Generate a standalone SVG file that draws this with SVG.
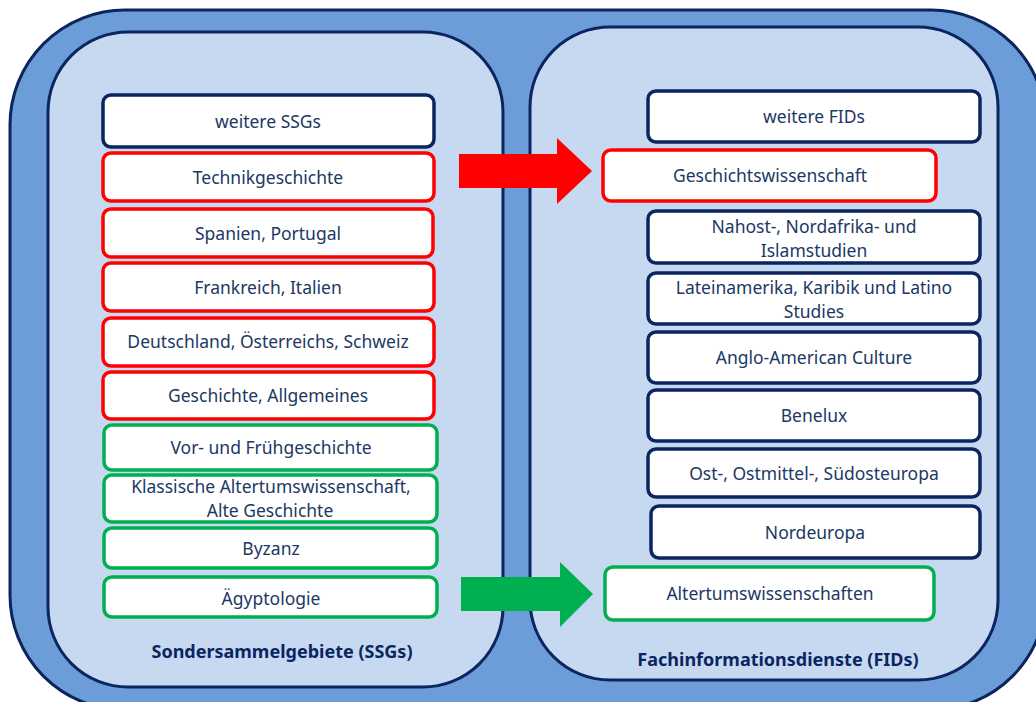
<svg xmlns="http://www.w3.org/2000/svg" width="1036" height="702" viewBox="0 0 1036 702">
<defs>
<style>
.outer{fill:#6D9DD9;stroke:#0B2560;stroke-width:3}
.panel{fill:#C6D9F1;stroke:#0B2560;stroke-width:3}
.n rect{fill:#FFFFFF;stroke-width:3.5}
.navy rect{stroke:#0B2560}
.red rect{stroke:#FF0000}
.green rect{stroke:#00B050}
text{font-family:"Noto Sans","Open Sans",sans-serif;font-size:17.5px;fill:#203864;text-anchor:middle}
.title{font-weight:bold;font-size:18px;fill:#0B2560}
</style>
</defs>
<rect class="outer" x="10" y="10" width="1036" height="700" rx="115"/>
<g id="panel-ssg">
<rect class="panel" x="48" y="32" width="455" height="655" rx="80"/>
<text class="title" x="282" y="658">Sondersammelgebiete (SSGs)</text>
</g>
<g id="panel-fid">
<rect class="panel" x="530" y="27" width="468" height="653" rx="80"/>
<text class="title" x="778" y="666">Fachinformationsdienste (FIDs)</text>
</g>
<g id="ssg-weitere" class="n navy"><rect x="103" y="95" width="331" height="52" rx="8"/><text x="268" y="128">weitere SSGs</text></g>
<g id="ssg-technik" class="n red"><rect x="103" y="153" width="331" height="48" rx="8"/><text x="268" y="184">Technikgeschichte</text></g>
<g id="ssg-spanien" class="n red"><rect x="103" y="209" width="330" height="48" rx="8"/><text x="268" y="240">Spanien, Portugal</text></g>
<g id="ssg-frankreich" class="n red"><rect x="103" y="263" width="331" height="48" rx="8"/><text x="268" y="294">Frankreich,  Italien</text></g>
<g id="ssg-deutschland" class="n red"><rect x="103" y="318" width="331" height="48" rx="8"/><text x="268" y="348">Deutschland, Österreichs, Schweiz</text></g>
<g id="ssg-geschichte" class="n red"><rect x="103" y="372" width="331" height="47" rx="8"/><text x="268" y="402">Geschichte, Allgemeines</text></g>
<g id="ssg-vor" class="n green"><rect x="104" y="425" width="333" height="45" rx="8"/><text x="271" y="454">Vor-  und  Frühgeschichte</text></g>
<g id="ssg-klassisch" class="n green"><rect x="104" y="475" width="333" height="47" rx="8"/><text x="271" y="493">Klassische Altertumswissenschaft,</text><text x="270" y="517">Alte Geschichte</text></g>
<g id="ssg-byzanz" class="n green"><rect x="104" y="528" width="333" height="40" rx="8"/><text x="271" y="555">Byzanz</text></g>
<g id="ssg-aegypt" class="n green"><rect x="104" y="577" width="333" height="40" rx="8"/><text x="271" y="605">Ägyptologie</text></g>
<g id="fid-weitere" class="n navy"><rect x="648" y="91" width="332" height="51" rx="8"/><text x="814" y="123">weitere FIDs</text></g>
<g id="fid-geschichte" class="n red"><rect x="603" y="150" width="333" height="51" rx="8"/><text x="770" y="182">Geschichtswissenschaft</text></g>
<g id="fid-nahost" class="n navy"><rect x="648" y="211" width="332" height="52" rx="8"/><text x="814" y="233">Nahost-, Nordafrika- und</text><text x="814" y="257">Islamstudien</text></g>
<g id="fid-latein" class="n navy"><rect x="648" y="273" width="332" height="51" rx="8"/><text x="814" y="294">Lateinamerika, Karibik und  Latino</text><text x="814" y="318">Studies</text></g>
<g id="fid-anglo" class="n navy"><rect x="648" y="332" width="332" height="51" rx="8"/><text x="814" y="364">Anglo-American Culture</text></g>
<g id="fid-benelux" class="n navy"><rect x="648" y="390" width="332" height="51" rx="8"/><text x="814" y="422">Benelux</text></g>
<g id="fid-ost" class="n navy"><rect x="648" y="449" width="332" height="48" rx="8"/><text x="814" y="480">Ost-, Ostmittel-, Südosteuropa</text></g>
<g id="fid-nord" class="n navy"><rect x="651" y="506" width="329" height="52" rx="8"/><text x="815" y="539">Nordeuropa</text></g>
<g id="fid-altertum" class="n green"><rect x="605" y="567" width="329" height="53" rx="8"/><text x="770" y="600">Altertumswissenschaften</text></g>
<g id="connectors">
<polygon fill="#FF0000" points="459,154 557,154 557,138 592,171 557,204 557,188 459,188"/>
<polygon fill="#00B050" points="461,577 560,577 560,562 593,594 560,627 560,611 461,611"/>
</g>
</svg>
